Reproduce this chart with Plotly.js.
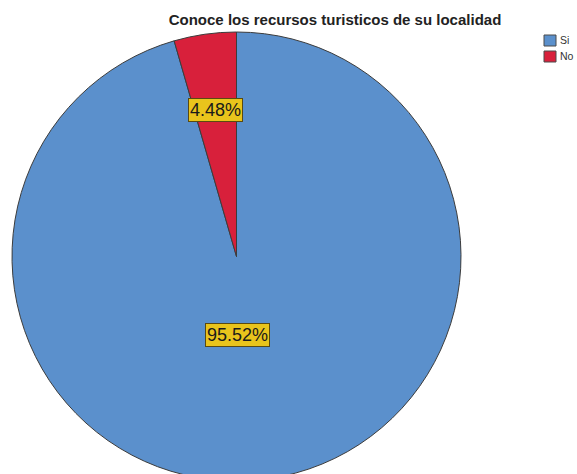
<!DOCTYPE html>
<html>
<head>
<meta charset="utf-8">
<script src="https://cdn.plot.ly/plotly-3.0.1.min.js"></script>
<style>
html,body{margin:0;padding:0;overflow:hidden;background:#fff;}
#chart{width:577px;height:490px;}
</style>
</head>
<body>
<div id="chart"></div>
<script>
const categories = ["Si", "No"];
const percentages = [95.52, 4.48];
const sliceColors = ["#5b90cc", "#d8203b"];
const chartTitle = "Conoce los recursos turisticos de su localidad";

const W = 577, H = 490;
const FONT = "Liberation Sans, Arial, sans-serif";

const trace = {
  type: "pie",
  labels: categories,
  values: percentages,
  sort: false,
  direction: "clockwise",
  rotation: 0,
  textinfo: "none",
  hoverinfo: "label+percent",
  marker: {colors: sliceColors, line: {color: "#3c3c3c", width: 1}},
  domain: {x: [12/W, 461/W], y: [1 - 481/H, 1 - 32/H]}
};

// value label positions (paper fractions)
const labelPos = [[237.5/W, 1 - 335/H], [215.5/W, 1 - 109.5/H]];
const annotations = percentages.map((v, i) => ({
  xref: "paper", yref: "paper",
  x: labelPos[i][0], y: labelPos[i][1],
  xanchor: "center", yanchor: "middle",
  text: v.toFixed(2) + "%",
  showarrow: false,
  font: {family: FONT, size: 18, color: "#1a1a1a"},
  bgcolor: "#e9c41c",
  bordercolor: "#5a4a10",
  borderwidth: 1,
  borderpad: 1
}));

// custom legend
const shapes = [];
categories.forEach((c, i) => {
  const top = 35 + i * 16;
  shapes.push({
    type: "rect", xref: "paper", yref: "paper",
    x0: 544/W, x1: 556/W, y0: 1 - (top + 11)/H, y1: 1 - top/H,
    fillcolor: sliceColors[i], line: {color: "#4a4a4a", width: 1}
  });
  annotations.push({
    xref: "paper", yref: "paper",
    x: 558/W, y: 1 - (top + 5.5)/H,
    xanchor: "left", yanchor: "middle",
    text: c, showarrow: false,
    font: {family: FONT, size: 10.5, color: "#333"}
  });
});

const layout = {
  width: W, height: H,
  margin: {l: 0, r: 0, t: 0, b: 0, autoexpand: false},
  paper_bgcolor: "#fff",
  title: {
    text: "<b>" + chartTitle + "</b>",
    x: 335/W, xanchor: "center",
    y: 1 - 20/H, yanchor: "middle",
    font: {family: FONT, size: 15, color: "#222"}
  },
  showlegend: false,
  annotations: annotations,
  shapes: shapes
};

Plotly.newPlot("chart", [trace], layout, {displayModeBar: false, staticPlot: true});
</script>
</body>
</html>
